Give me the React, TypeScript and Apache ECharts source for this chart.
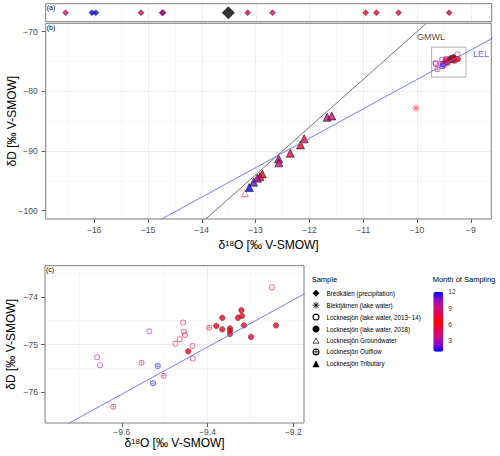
import React, { useEffect, useRef } from "react";
import * as echarts from "echarts";

// ---------- data ----------
// (a) Bredkälen precipitation, δ18O only
const precipO = [-16.53, -16.04, -15.97, -15.13, -14.74, -14.72, -13.15, -12.69, -10.96, -10.76, -10.35, -9.41];
const precipMonth = [4, 1, 12, 5, 4, 3, 8, 9, 7, 6, 6, 8];
const precipMeanO = [-13.51];

// Locknesjön tributary
const tribO = [-11.67, -11.585, -12.097, -12.165, -12.356, -12.573, -12.568, -12.876, -12.92, -12.968, -13.037, -13.117];
const tribD = [-84.34, -84.12, -87.97, -88.98, -90.37, -91.32, -91.99, -93.84, -94.29, -94.56, -95.23, -96.13];
const tribMonth = [9, 9, 7, 6, 8, 9, 9, 7, 8, 10, 11, 12];

// Locknesjön groundwater
const gwO = [-13.198];
const gwD = [-97.07];
const gwMonth = [7];

// Blektjärnen lake water
const blO = [-10.02];
const blD = [-82.83];
const blMonth = [7];

// Locknesjön lake water 2013-14
const lakeOldO = [-9.2497, -9.457, -9.455, -9.4525, -9.465, -9.475, -9.435, -9.4345, -9.5357, -9.6576, -9.6506];
const lakeOldD = [-73.8, -74.54, -74.73, -74.8, -74.89, -74.985, -75.03, -75.29, -74.72, -75.264, -75.43];
const lakeOldMonth = [8, 8, 8, 5, 5, 5, 8, 8, 10, 10, 3];

// Locknesjön outflow
const outO = [-9.554, -9.516, -9.527, -9.502, -9.62, -9.396];
const outD = [-75.38, -75.45, -75.81, -75.65, -76.3, -74.65];
const outMonth = [8, 12, 1, 4, 5, 6];

// Locknesjön lake water 2018
const lakeNewO = [-9.445, -9.3795, -9.3655, -9.3655, -9.3475, -9.3475, -9.3475, -9.329, -9.321, -9.3196, -9.315, -9.2986, -9.2403];
const lakeNewD = [-75.14, -74.61, -74.44, -74.68, -74.66, -74.71, -74.78, -74.44, -74.28, -74.4, -74.6, -74.84, -74.6];
const lakeNewMonth = [6, 7, 6, 7, 6, 7, 6, 7, 6, 7, 6, 7, 6];

// reference lines (end points)
const gmwlO = [-14.5, -9.5];
const gmwlD = [-106, -66];
const lelO = [-17, -8];
const lelD = [-112.52, -68.15];
const gmwlLabel = [-9.74, -70.84];
const lelLabel = [-8.81, -73.8];
const zoomBox = [-9.73, -77.6, -9.09, -72.6];

// axes
const bX = [-16.9, -8.62];
const bY = [-101.4, -68.6];
const cX = [-9.779, -9.175];
const cY = [-76.64, -73.35];
const bXTicks = [-16, -15, -14, -13, -12, -11, -10, -9];
const bYTicks = [-100, -90, -80, -70];
const cXTicks = [-9.6, -9.4, -9.2];
const cYTicks = [-76, -75, -74];
const monthTicks = [3, 6, 9, 12];
const monthRange = [1, 12];
const monthPalette = ["#0000FF", "#9008C8", "#C81084", "#E8004A", "#FF0000", "#E8004A", "#C81084", "#9008C8", "#0000FF"];

const names = {
  precip: "Bredkälen (precipitation)",
  bl: "Blektjärnen (lake water)",
  lakeOld: "Locknesjön (lake water, 2013−14)",
  lakeNew: "Locknesjön (lake water, 2018)",
  gw: "Locknesjön Groundwater",
  out: "Locknesjön Outflow",
  trib: "Locknesjön Tributary",
};

// ---------- styles ----------
const FONT = "Liberation Sans, Arial, Helvetica, sans-serif";
const A = { left: 45.7, top: 3.7, width: 446, height: 18 };
const B = { left: 45.7, top: 23.3, width: 445.6, height: 195.7 };
const C = { left: 45, top: 265.7, width: 259, height: 157.3 };
const CB = { left: 433.3, top: 291.7, width: 10, height: 60 };

const RING = "path://M0,50A50,50,0,1,1,100,50A50,50,0,1,1,0,50ZM16,50A34,34,0,1,0,84,50A34,34,0,1,0,16,50Z";
const CPLUS =
  "path://M0,50A50,50,0,1,1,100,50A50,50,0,1,1,0,50ZM16,50A34,34,0,1,0,84,50A34,34,0,1,0,16,50ZM45,5L55,5L55,95L45,95ZM5,45L95,45L95,55L5,55Z";
const TRI_OPEN = "path://M50,0L100,87L0,87ZM50,18.5L15.5,78L84.5,78Z";
const ASTER =
  "path://M45,0L55,0L55,100L45,100ZM0,45L100,45L100,55L0,55ZM18.5,11.5L88.5,81.5L81.5,88.5L11.5,18.5ZM81.5,11.5L88.5,18.5L18.5,88.5L11.5,81.5Z";

const minusFmt = (v: number) => (v < 0 ? "\u2212" + String(Math.abs(v)) : String(v));
const major = { color: "#EBEBEB", width: 0.9 };
const minor = { color: "#F4F4F4", width: 0.6 };
const TICK_FONT = 8.5;

const xName = "{n|δ}{s|18}{n|O [‰ V-SMOW]}";
const nameStyle = {
  fontSize: 12,
  color: "#000",
  fontFamily: FONT,
  rich: {
    n: { fontSize: 12, color: "#000", fontFamily: FONT, verticalAlign: "bottom" },
    s: { fontSize: 8, color: "#000", fontFamily: FONT, verticalAlign: "top" },
  },
};

function valAxis(gridIndex: number, range: number[], ticks: number[], splitNumber: number, margin: number, extra: any) {
  return {
    gridIndex,
    type: "value",
    min: range[0],
    max: range[1],
    splitNumber,
    axisLine: { show: false },
    axisTick: { show: true, length: 4, customValues: ticks, lineStyle: { color: "#333", width: 0.8 } },
    axisLabel: { show: true, customValues: ticks, fontSize: TICK_FONT, color: "#4D4D4D", fontFamily: FONT, formatter: minusFmt, margin },
    splitLine: { show: true, lineStyle: major, showMinLine: false, showMaxLine: false },
    minorTick: { show: false, splitNumber: 2 },
    minorSplitLine: { show: true, lineStyle: minor },
    nameMoveOverlap: false,
    ...extra,
  };
}

function pts(o: number[], d: number[], m: number[]) {
  return o.map((v, i) => [v, d[i], m[i]]);
}

function buildOption() {
  const series: any[] = [];
  const mapped: number[] = [];
  const add = (s: any, map: boolean) => {
    if (map) mapped.push(series.length);
    series.push(s);
  };

  // panel (a)
  add(
    {
      type: "scatter",
      name: names.precip,
      xAxisIndex: 0,
      yAxisIndex: 0,
      symbol: "diamond",
      symbolSize: 6,
      itemStyle: { borderColor: "#222", borderWidth: 0.6 },
      data: precipO.map((v, i) => [v, 0, precipMonth[i]]),
    },
    true
  );
  add(
    {
      type: "scatter",
      name: "Bredkälen mean",
      xAxisIndex: 0,
      yAxisIndex: 0,
      symbol: "diamond",
      symbolSize: 13,
      itemStyle: { color: "#000" },
      data: precipMeanO.map((v) => [v, 0]),
    },
    false
  );

  for (const p of [1, 2]) {
    if (p === 1) {
      add(
        {
          type: "line",
          name: "GMWL",
          xAxisIndex: 1,
          yAxisIndex: 1,
          symbol: "none",
          silent: true,
          lineStyle: { color: "#1a1a1a", width: 0.6 },
          data: gmwlO.map((v, i) => [v, gmwlD[i]]),
          markArea: {
            silent: true,
            itemStyle: { color: "rgba(0,0,0,0)", borderColor: "#A8A8A8", borderWidth: 0.9 },
            data: [[{ coord: [zoomBox[0], zoomBox[1]] }, { coord: [zoomBox[2], zoomBox[3]] }]],
          },
        },
        false
      );
    }
    add(
      {
        type: "line",
        name: "LEL",
        xAxisIndex: p,
        yAxisIndex: p,
        symbol: "none",
        silent: true,
        lineStyle: { color: "#6B6BFF", width: 0.9 },
        data: lelO.map((v, i) => [v, lelD[i]]),
      },
      false
    );
    const common = { xAxisIndex: p, yAxisIndex: p, type: "scatter", clip: true };
    add(
      {
        ...common,
        name: names.trib,
        symbol: "triangle",
        symbolSize: 8,
        itemStyle: { borderColor: "#1a1a1a", borderWidth: 0.8 },
        data: pts(tribO, tribD, tribMonth),
      },
      true
    );
    add(
      { ...common, name: names.gw, symbol: TRI_OPEN, symbolSize: 8, itemStyle: { opacity: 0.6, borderWidth: 0 }, data: pts(gwO, gwD, gwMonth) },
      true
    );
    add(
      { ...common, name: names.bl, symbol: ASTER, symbolSize: 8, itemStyle: { opacity: 0.55, borderWidth: 0 }, data: pts(blO, blD, blMonth) },
      true
    );
    add(
      {
        ...common,
        name: names.lakeOld,
        symbol: RING,
        symbolSize: 6,
        itemStyle: { opacity: 0.55, borderWidth: 0 },
        data: pts(lakeOldO, lakeOldD, lakeOldMonth),
      },
      true
    );
    add(
      { ...common, name: names.out, symbol: CPLUS, symbolSize: 6, itemStyle: { opacity: 0.55, borderWidth: 0 }, data: pts(outO, outD, outMonth) },
      true
    );
    add(
      {
        ...common,
        name: names.lakeNew,
        symbol: "circle",
        symbolSize: 5.5,
        itemStyle: { borderColor: "#333", borderWidth: 0.6 },
        data: pts(lakeNewO, lakeNewD, lakeNewMonth),
      },
      true
    );
  }

  // line labels
  add(
    {
      type: "scatter",
      name: "GMWL label",
      xAxisIndex: 1,
      yAxisIndex: 1,
      symbolSize: 1,
      silent: true,
      itemStyle: { color: "rgba(0,0,0,0)" },
      label: { show: true, position: "inside", formatter: "GMWL", fontSize: 9, color: "#1a1a1a", fontFamily: FONT },
      data: [gmwlLabel],
    },
    false
  );
  add(
    {
      type: "scatter",
      name: "LEL label",
      xAxisIndex: 1,
      yAxisIndex: 1,
      symbolSize: 1,
      silent: true,
      itemStyle: { color: "rgba(0,0,0,0)" },
      label: { show: true, position: "inside", formatter: "LEL", fontSize: 9, color: "#3A3AF2", fontFamily: FONT },
      data: [lelLabel],
    },
    false
  );

  const black = { color: "#000", borderWidth: 0, opacity: 1 };
  const legendData = [
    { name: names.precip, icon: "diamond", itemStyle: black },
    { name: names.bl, icon: ASTER, itemStyle: black },
    { name: names.lakeOld, icon: RING, itemStyle: black },
    { name: names.lakeNew, icon: "circle", itemStyle: black },
    { name: names.gw, icon: TRI_OPEN, itemStyle: black },
    { name: names.out, icon: CPLUS, itemStyle: black },
    { name: names.trib, icon: "triangle", itemStyle: black },
  ];

  const border = (g: any) => ({
    type: "rect",
    z: 100,
    silent: true,
    shape: { x: g.left, y: g.top, width: g.width, height: g.height },
    style: { fill: "none", stroke: "#7F7F7F", lineWidth: 1 },
  });
  const txt = (x: number, y: number, text: string, size: number) => ({
    type: "text",
    z: 101,
    silent: true,
    x,
    y,
    style: { text, fontSize: size, fontFamily: FONT, fill: "#000", align: "left", verticalAlign: "top" },
  });

  return {
    animation: false,
    backgroundColor: "#fff",
    textStyle: { fontFamily: FONT },
    grid: [
      { ...A, outerBoundsMode: "none" },
      { ...B, outerBoundsMode: "none" },
      { ...C, outerBoundsMode: "none" },
      { ...CB, outerBoundsMode: "none" },
    ],
    xAxis: [
      {
        gridIndex: 0,
        type: "value",
        min: bX[0],
        max: bX[1],
        splitNumber: 8,
        axisLine: { show: false },
        axisTick: { show: false },
        axisLabel: { show: false },
        splitLine: { show: true, lineStyle: major, showMinLine: false, showMaxLine: false },
        minorTick: { show: false, splitNumber: 2 },
        minorSplitLine: { show: true, lineStyle: minor },
      },
      valAxis(1, bX, bXTicks, 8, 6, {
        name: xName,
        nameLocation: "middle",
        nameGap: 20,
        nameTextStyle: nameStyle,
      }),
      valAxis(2, cX, cXTicks, 3, 4, {
        name: xName,
        nameLocation: "middle",
        nameGap: 14,
        nameTextStyle: nameStyle,
      }),
      { gridIndex: 3, type: "value", show: false, min: 0, max: 1 },
    ],
    yAxis: [
      { gridIndex: 0, type: "value", min: -1, max: 1, show: false },
      valAxis(1, bY, bYTicks, 3, 8, {
        name: "δD [‰ V-SMOW]",
        nameLocation: "middle",
        nameRotate: 90,
        nameGap: 28,
        nameTextStyle: { fontSize: 12, color: "#000", fontFamily: FONT },
      }),
      valAxis(2, cY, cYTicks, 3, 7, {
        name: "δD [‰ V-SMOW]",
        nameLocation: "middle",
        nameRotate: 90,
        nameGap: 28,
        nameTextStyle: { fontSize: 12, color: "#000", fontFamily: FONT },
      }),
      {
        gridIndex: 3,
        type: "value",
        min: monthRange[0],
        max: monthRange[1],
        position: "right",
        axisLine: { show: false },
        axisTick: { show: false },
        splitLine: { show: false },
        axisLabel: { show: true, customValues: monthTicks, fontSize: 6.5, color: "#333", fontFamily: FONT, margin: 5 },
      },
    ],
    visualMap: {
      type: "continuous",
      min: monthRange[0],
      max: monthRange[1],
      dimension: 2,
      seriesIndex: mapped,
      calculable: false,
      orient: "vertical",
      itemWidth: CB.width,
      itemHeight: CB.height,
      left: CB.left,
      top: CB.top,
      padding: 0,
      inRange: { color: monthPalette },
    },
    legend: {
      orient: "vertical",
      left: 312.5,
      top: 289.8,
      padding: 0,
      itemWidth: 7,
      itemHeight: 7,
      itemGap: 4.9,
      selectedMode: false,
      textStyle: { fontSize: 6.3, color: "#000", fontFamily: FONT, padding: [0, 0, 0, 2] },
      data: legendData,
    },
    graphic: [
      border(A),
      border(B),
      border(C),
      txt(A.left + 1, A.top + 0.3, "(a)", 7),
      txt(B.left + 1, B.top + 0.3, "(b)", 7),
      txt(C.left + 1, C.top + 0.3, "(c)", 7),
      txt(311.7, 275.5, "Sample", 7.5),
      txt(432.7, 275.5, "Month of Sampling", 7.5),
    ],
    series,
  };
}

export default function App() {
  const ref = useRef<HTMLDivElement>(null);
  useEffect(() => {
    document.body.style.margin = "0";
    const chart = echarts.init(ref.current as HTMLDivElement, null, { renderer: "svg" });
    chart.setOption(buildOption() as any);
    return () => chart.dispose();
  }, []);
  return <div ref={ref} style={{ width: 500, height: 456 }} />;
}
